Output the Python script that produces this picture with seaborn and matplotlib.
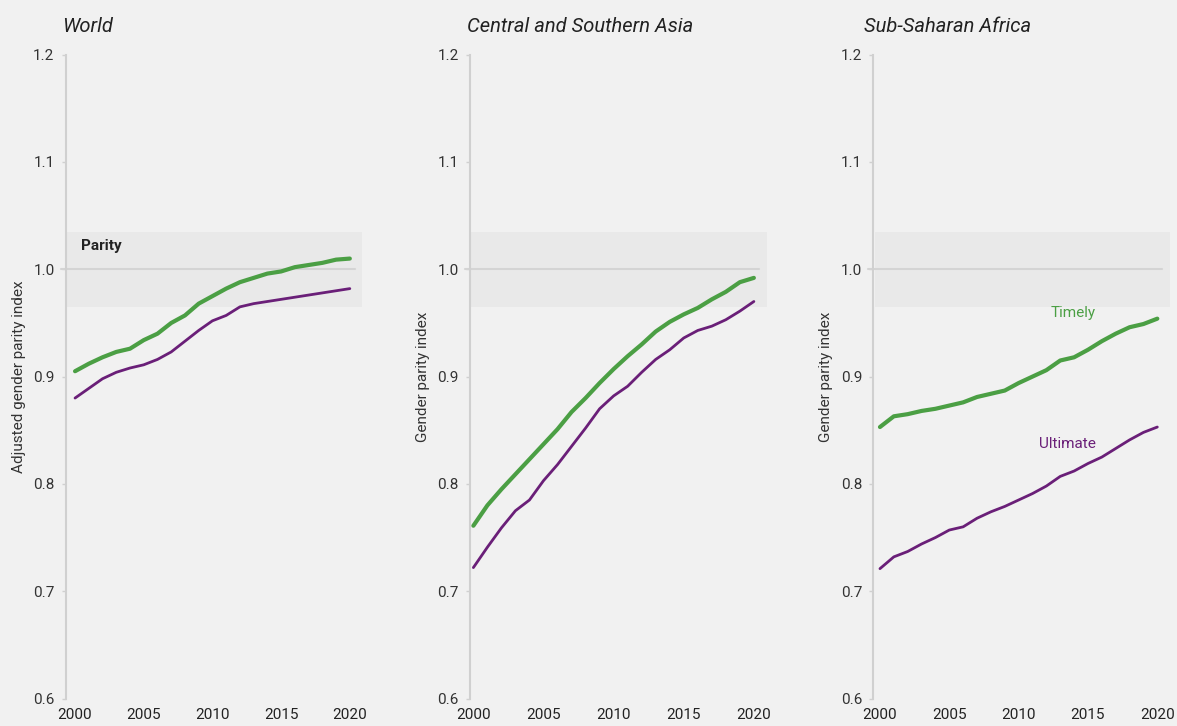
import numpy as np
import pandas as pd
import matplotlib
matplotlib.use("Agg")
import matplotlib.pyplot as plt
import seaborn as sns

years = list(range(2000, 2021))

world_timely = [0.905, 0.912, 0.918, 0.923, 0.926, 0.934, 0.940, 0.950, 0.957, 0.968, 0.975,
                0.982, 0.988, 0.992, 0.996, 0.998, 1.002, 1.004, 1.006, 1.009, 1.010]
world_ultimate = [0.880, 0.889, 0.898, 0.904, 0.908, 0.911, 0.916, 0.923, 0.933, 0.943, 0.952,
                  0.957, 0.965, 0.968, 0.970, 0.972, 0.974, 0.976, 0.978, 0.980, 0.982]

csa_timely = [0.761, 0.780, 0.795, 0.809, 0.823, 0.837, 0.851, 0.867, 0.880, 0.894, 0.907,
              0.919, 0.930, 0.942, 0.951, 0.958, 0.964, 0.972, 0.979, 0.988, 0.992]
csa_ultimate = [0.722, 0.741, 0.759, 0.775, 0.785, 0.803, 0.818, 0.835, 0.852, 0.870, 0.882,
                0.891, 0.904, 0.916, 0.925, 0.936, 0.943, 0.947, 0.953, 0.961, 0.970]

ssa_timely = [0.853, 0.863, 0.865, 0.868, 0.870, 0.873, 0.876, 0.881, 0.884, 0.887, 0.894,
              0.900, 0.906, 0.915, 0.918, 0.925, 0.933, 0.940, 0.946, 0.949, 0.954]
ssa_ultimate = [0.721, 0.732, 0.737, 0.744, 0.750, 0.757, 0.760, 0.768, 0.774, 0.779, 0.785,
                0.791, 0.798, 0.807, 0.812, 0.819, 0.825, 0.833, 0.841, 0.848, 0.853]

panel_titles = ["World", "Central and Southern Asia", "Sub-Saharan Africa"]
panel_ylabels = ["Adjusted gender parity index", "Gender parity index", "Gender parity index"]
series_names = ["Timely", "Ultimate"]
y_ticks = [0.6, 0.7, 0.8, 0.9, 1.0, 1.1, 1.2]
x_ticks = [2000, 2005, 2010, 2015, 2020]

panels = [(world_timely, world_ultimate), (csa_timely, csa_ultimate), (ssa_timely, ssa_ultimate)]

GREEN = "#4b9f44"
PURPLE = "#6a1f78"
BG = "#f1f1f1"

sns.set_theme(style="white")
plt.rcParams['font.family'] = ['Roboto', 'DejaVu Sans']
plt.rcParams['axes.facecolor'] = BG
plt.rcParams['figure.facecolor'] = BG

fig = plt.figure(figsize=(11.77, 7.26), dpi=100)
W, H = 1177, 726
lefts = [65.7, 470.0, 873.3]
xlefts = [1999.32, 1999.76, 1999.52]
title_x = [-0.012, -0.010, -0.032]
xright = 2020.9
top_px, bot_px = 54.7, 698.5
width_px = 296.5

for i, (timely, ultimate) in enumerate(panels):
    ax = fig.add_axes([lefts[i] / W, 1 - bot_px / H, width_px / W, (bot_px - top_px) / H])
    ax.set_facecolor(BG)
    df = pd.DataFrame({
        "year": years * 2,
        "value": list(timely) + list(ultimate),
        "series": [series_names[0]] * len(years) + [series_names[1]] * len(years),
    })
    ax.axhspan(0.965, 1.035, xmin=0.005, xmax=1.0, color="#e9e9e9", lw=0, zorder=0)
    ax.axhline(1.0, xmin=-0.017, xmax=0.975, color="#d4d4d4", lw=1.5, clip_on=False, zorder=1)
    sns.lineplot(data=df, x="year", y="value", hue="series", size="series",
                 palette={series_names[0]: GREEN, series_names[1]: PURPLE},
                 sizes={series_names[0]: 3.0, series_names[1]: 2.0},
                 legend=False, ax=ax, zorder=3)
    ax.set_xlim(xlefts[i], xright)
    ax.set_ylim(0.6, 1.2)
    ax.set_xticks(x_ticks)
    ax.set_yticks(y_ticks)
    ax.set_yticklabels([f"{t:.1f}" for t in y_ticks])
    for s in ["top", "right", "bottom"]:
        ax.spines[s].set_visible(False)
    ax.spines["left"].set_color("#d0d0d0")
    ax.spines["left"].set_linewidth(1.5)
    ax.tick_params(axis="y", which="both", left=True, length=3, width=1, color="#d0d0d0",
                   pad=5, labelsize=11, labelcolor="#333333")
    ax.tick_params(axis="x", which="both", bottom=False, length=0, pad=7,
                   labelsize=11, labelcolor="#222222")
    ax.set_xlabel("")
    ax.set_ylabel(panel_ylabels[i], fontsize=11, color="#333333")
    ax.yaxis.set_label_coords(-0.135, 0.5)
    ax.set_title(panel_titles[i], loc="left", fontsize=14.5, style="italic", color="#222222",
                 x=title_x[i], y=1.0, pad=16.5)
    if i == 0:
        ax.text(2000.4, 1.022, "Parity", fontsize=11, fontweight="bold", color="#222222",
                ha="left", va="center")
    if i == 2:
        ax.text(2013.9, 0.959, series_names[0], fontsize=11, color=GREEN, ha="center", va="center")
        ax.text(2013.5, 0.837, series_names[1], fontsize=11, color=PURPLE, ha="center", va="center")

fig.savefig("out.png", dpi=100, facecolor=BG)
